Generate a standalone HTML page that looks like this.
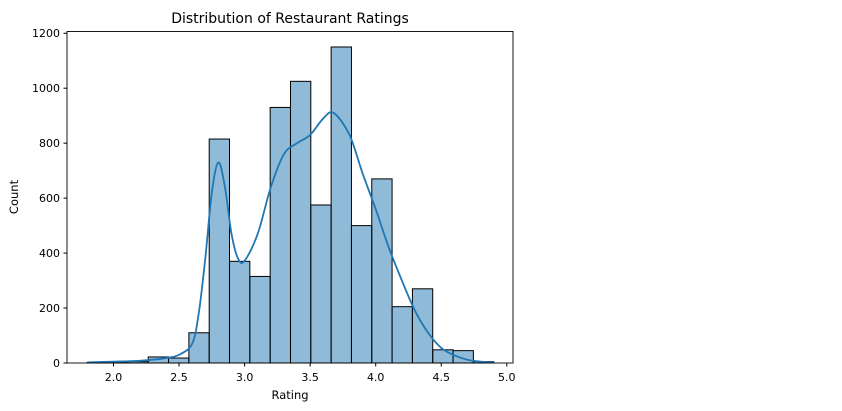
<!DOCTYPE html>
<html><head><meta charset="utf-8"><style>
html,body{margin:0;padding:0;background:#fff;}
svg{display:block;font-family:"DejaVu Sans","Liberation Sans",sans-serif;}
</style></head><body>
<svg id="chart" width="842" height="411">
<rect x="0" y="0" width="842" height="411" fill="#fff"/>
<g id="bars"></g>
<path id="kde" fill="none" stroke="#1f77b4" stroke-width="1.8"/>
<rect x="67" y="31.5" width="446" height="331.5" fill="none" stroke="#000" stroke-width="0.9"/>
<g id="xticks"></g>
<g id="yticks"></g>
<text x="290" y="23" font-size="14" text-anchor="middle">Distribution of Restaurant Ratings</text>
<text x="290" y="399" font-size="11.5" text-anchor="middle">Rating</text>
<text x="18" y="197" font-size="11.5" text-anchor="middle" transform="rotate(-90 18 197)">Count</text>
</svg>
<script>
const binStart = 1.8;
const binWidth = 0.155;
const counts = [2,3,5,22,18,110,815,370,315,930,1025,575,1150,500,670,205,270,48,45,5];
const kdeX = [1.8,2.0,2.2,2.4,2.5,2.6,2.65,2.7,2.75,2.8,2.85,2.9,2.95,3.0,3.1,3.2,3.3,3.4,3.5,3.6,3.68,3.8,3.9,4.0,4.1,4.2,4.3,4.4,4.5,4.6,4.7,4.8,4.9];
const kdeY = [2,5,8,18,30,70,180,380,620,730,640,470,380,372,470,640,760,800,830,890,910,830,690,560,420,300,190,110,55,28,12,5,2];
const xTicks = [2.0,2.5,3.0,3.5,4.0,4.5,5.0];
const yTicks = [0,200,400,600,800,1000,1200];
const NS='http://www.w3.org/2000/svg';
function sx(v){return 113.5+(v-2.0)*131.1;}
function sy(v){return 363-v*0.2748;}
const bars=document.getElementById('bars');
counts.forEach((c,i)=>{
  const x0=sx(binStart+i*binWidth), x1=sx(binStart+(i+1)*binWidth);
  const r=document.createElementNS(NS,'rect');
  r.setAttribute('x',x0);r.setAttribute('y',sy(c));
  r.setAttribute('width',x1-x0);r.setAttribute('height',sy(0)-sy(c));
  r.setAttribute('fill','rgba(31,119,180,0.5)');r.setAttribute('stroke','#000');r.setAttribute('stroke-width','1');
  
  
  bars.appendChild(r);
});
// smooth curve (catmull-rom)
const pts=kdeX.map((x,i)=>[sx(x),sy(kdeY[i])]);
let d='M'+pts[0][0]+','+pts[0][1];
for(let i=0;i<pts.length-1;i++){
  const p0=pts[Math.max(0,i-1)],p1=pts[i],p2=pts[i+1],p3=pts[Math.min(pts.length-1,i+2)];
  const c1=[p1[0]+(p2[0]-p0[0])/6,p1[1]+(p2[1]-p0[1])/6];
  const c2=[p2[0]-(p3[0]-p1[0])/6,p2[1]-(p3[1]-p1[1])/6];
  d+=' C'+c1[0]+','+c1[1]+' '+c2[0]+','+c2[1]+' '+p2[0]+','+p2[1];
}
document.getElementById('kde').setAttribute('d',d);
const xg=document.getElementById('xticks');
xTicks.forEach(t=>{
  const l=document.createElementNS(NS,'line');
  l.setAttribute('x1',sx(t));l.setAttribute('x2',sx(t));l.setAttribute('y1',363);l.setAttribute('y2',366.5);l.setAttribute('stroke','#000');
  
  
  xg.appendChild(l);
  const tx=document.createElementNS(NS,'text');
  tx.setAttribute('x',sx(t));tx.setAttribute('y',381);tx.setAttribute('font-size','11');tx.setAttribute('text-anchor','middle');
  tx.textContent=t.toFixed(1);
  
  
  xg.appendChild(tx);
});
const yg=document.getElementById('yticks');
yTicks.forEach(t=>{
  const l=document.createElementNS(NS,'line');
  l.setAttribute('x1',63.5);l.setAttribute('x2',67);l.setAttribute('y1',sy(t));l.setAttribute('y2',sy(t));l.setAttribute('stroke','#000');
  
  
  yg.appendChild(l);
  const tx=document.createElementNS(NS,'text');
  tx.setAttribute('x',60);tx.setAttribute('y',sy(t)+4);tx.setAttribute('font-size','11');tx.setAttribute('text-anchor','end');
  tx.textContent=t;
  
  
  yg.appendChild(tx);
});
</script>
</body></html>
